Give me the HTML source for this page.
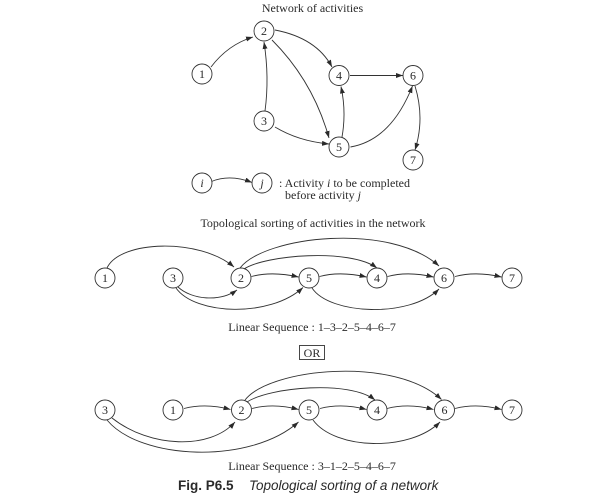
<!DOCTYPE html>
<html>
<head>
<meta charset="utf-8">
<style>
html,body{margin:0;padding:0;background:#fff;}
svg{display:block;}
text{font-family:"Liberation Serif",serif;fill:#2a2a2a;}
.n{font-size:12px;text-anchor:middle;}
.c{fill:none;stroke:#333;stroke-width:0.9;}
.e{fill:none;stroke:#333;stroke-width:0.9;marker-end:url(#ah);}
</style>
</head>
<body>
<svg width="601" height="499" viewBox="0 0 601 499" xmlns="http://www.w3.org/2000/svg">
<defs>
<marker id="ah" markerUnits="userSpaceOnUse" markerWidth="8" markerHeight="6" refX="7" refY="2.5" orient="auto">
<path d="M0,0 L7,2.5 L0,5 z" fill="#2a2a2a"/>
</marker>
</defs>

<!-- Top network -->
<text x="312.5" y="12" font-size="12" text-anchor="middle">Network of activities</text>

<path class="e" d="M211,67 Q228,44.6 253,37"/>
<path class="e" d="M265,111 Q269.5,77.5 264,42"/>
<path class="e" d="M275,30 Q316.5,38 332,67"/>
<path class="e" d="M272,40 Q313,81 329,138"/>
<path class="e" d="M275,127 Q298,141 329,144"/>
<path class="e" d="M342,137 Q346.5,112 341,86.5"/>
<path class="e" d="M350,75.5 L403,75.5"/>
<path class="e" d="M350.5,147 Q391,140 412.5,86"/>
<path class="e" d="M415,86 Q425,118.5 415,150"/>

<circle class="c" cx="202" cy="74" r="10"/><text class="n" x="202" y="78">1</text>
<circle class="c" cx="264" cy="31" r="10"/><text class="n" x="264" y="35">2</text>
<circle class="c" cx="264" cy="121" r="10"/><text class="n" x="264" y="125">3</text>
<circle class="c" cx="339" cy="75.5" r="10"/><text class="n" x="339" y="79.5">4</text>
<circle class="c" cx="339" cy="147" r="10"/><text class="n" x="339" y="151">5</text>
<circle class="c" cx="413" cy="75.5" r="10"/><text class="n" x="413" y="79.5">6</text>
<circle class="c" cx="413" cy="160" r="10"/><text class="n" x="413" y="164">7</text>

<!-- Legend -->
<circle class="c" cx="202" cy="183" r="10"/><text class="n" x="202" y="187" font-style="italic">i</text>
<circle class="c" cx="262" cy="183" r="10"/><text class="n" x="262" y="187" font-style="italic">j</text>
<path class="e" d="M211.5,181.5 Q230,174 252,182.5"/>
<text x="279" y="187" font-size="12">: Activity <tspan font-style="italic">i</tspan> to be completed</text>
<text x="285" y="199" font-size="12">before activity <tspan font-style="italic">j</tspan></text>

<!-- Middle -->
<text x="313" y="227" font-size="12" text-anchor="middle">Topological sorting of activities in the network</text>

<path class="e" d="M107,268 C120,240 200,238 234,267"/>
<path class="e" d="M240,268 C265,236 390,222 439,266"/>
<path class="e" d="M244,269 C265,255 350,248 377,268"/>
<path class="e" d="M251.5,276.5 Q272,271 298.5,277"/>
<path class="e" d="M319.5,276.5 Q340,271 366.5,277"/>
<path class="e" d="M387.5,276.5 Q408,271 433.5,277"/>
<path class="e" d="M455,276.5 Q476,271 501.5,277"/>
<path class="e" d="M178,287 C192,300 220,302 237,290"/>
<path class="e" d="M176,288 C195,315 270,318 303,287.5"/>
<path class="e" d="M312,288 C330,315 410,318 439,289"/>

<circle class="c" cx="105" cy="278" r="10"/><text class="n" x="105" y="282">1</text>
<circle class="c" cx="173" cy="278" r="10"/><text class="n" x="173" y="282">3</text>
<circle class="c" cx="241" cy="278" r="10"/><text class="n" x="241" y="282">2</text>
<circle class="c" cx="309" cy="278" r="10"/><text class="n" x="309" y="282">5</text>
<circle class="c" cx="377" cy="278" r="10"/><text class="n" x="377" y="282">4</text>
<circle class="c" cx="444" cy="278" r="10"/><text class="n" x="444" y="282">6</text>
<circle class="c" cx="512" cy="278" r="10"/><text class="n" x="512" y="282">7</text>

<text x="312" y="331" font-size="12" text-anchor="middle">Linear Sequence : 1–3–2–5–4–6–7</text>

<rect x="299.5" y="345.5" width="25" height="14" fill="none" stroke="#333" stroke-width="0.9"/>
<text x="312" y="357" font-size="12" text-anchor="middle">OR</text>

<!-- Bottom -->
<path class="e" d="M184,408.5 Q206,403 230.5,409.5"/>
<path class="e" d="M245,400 C270,368 395,356 441.5,399.5"/>
<path class="e" d="M247,402 C270,387 350,380 375,400"/>
<path class="e" d="M252,408.5 Q274,403 298.5,409.5"/>
<path class="e" d="M320,408.5 Q342,403 366.5,409.5"/>
<path class="e" d="M387,408.5 Q409,403 433.5,409.5"/>
<path class="e" d="M455,408.5 Q477,403 501.5,409.5"/>
<path class="e" d="M313,420 C335,450 410,452 440,422"/>
<path class="e" d="M112,418 C150,448 210,450 235,422"/>
<path class="e" d="M107,420 C140,460 250,465 298.5,422"/>

<circle class="c" cx="105" cy="410" r="10"/><text class="n" x="105" y="414">3</text>
<circle class="c" cx="173" cy="410" r="10"/><text class="n" x="173" y="414">1</text>
<circle class="c" cx="241.5" cy="410" r="10"/><text class="n" x="241.5" y="414">2</text>
<circle class="c" cx="309" cy="410" r="10"/><text class="n" x="309" y="414">5</text>
<circle class="c" cx="377" cy="410" r="10"/><text class="n" x="377" y="414">4</text>
<circle class="c" cx="444.5" cy="410" r="10"/><text class="n" x="444.5" y="414">6</text>
<circle class="c" cx="512" cy="410" r="10"/><text class="n" x="512" y="414">7</text>

<text x="312" y="470" font-size="12" text-anchor="middle">Linear Sequence : 3–1–2–5–4–6–7</text>

<text x="178" y="490" font-size="13.5" style="font-family:'Liberation Sans',sans-serif;font-weight:bold;">Fig. P6.5</text>
<text x="249" y="490" font-size="13.5" style="font-family:'Liberation Sans',sans-serif;font-style:italic;">Topological sorting of a network</text>
</svg>
</body>
</html>
